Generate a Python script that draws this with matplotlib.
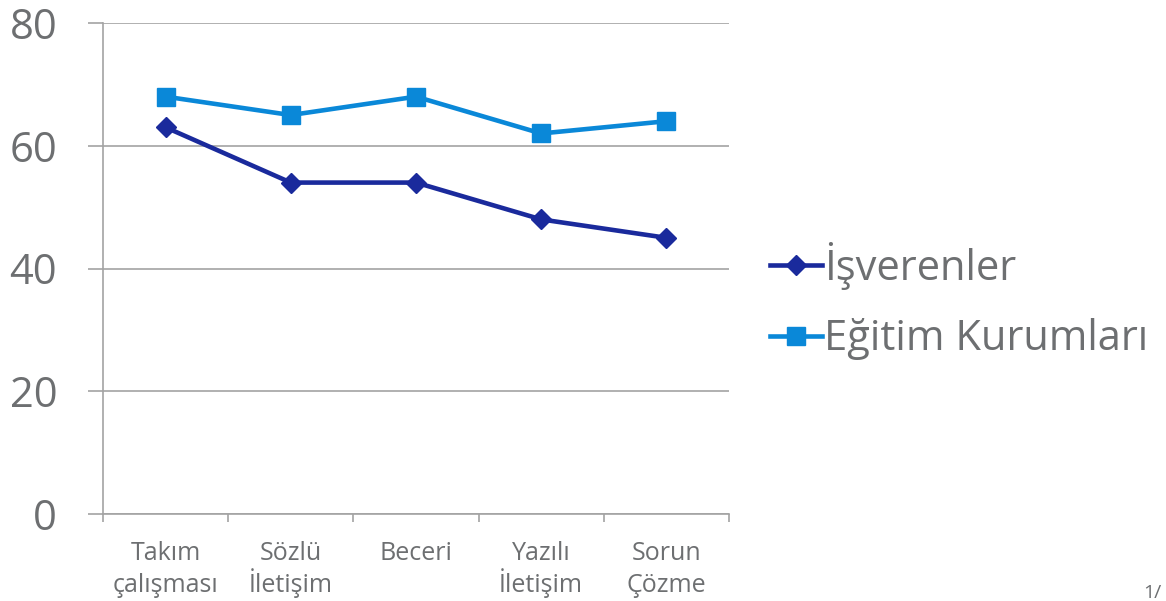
import matplotlib
matplotlib.use("Agg")
import matplotlib.pyplot as plt
from matplotlib.transforms import blended_transform_factory, offset_copy

categories = ["Takım\nçalışması", "Sözlü\nİletişim", "Beceri", "Yazılı\nİletişim", "Sorun\nÇözme"]
isverenler = [63, 54, 54, 48, 45]
egitim = [68, 65, 68, 62, 64]
yticks = [0, 20, 40, 60, 80]

plt.rcParams['font.family'] = ['Open Sans', 'DejaVu Sans']

W, H = 1166, 601
DPI = 100
fig = plt.figure(figsize=(W / DPI, H / DPI), dpi=DPI)
ax = fig.add_axes([103 / W, (H - 514) / H, (729 - 103) / W, (514 - 23) / H])

grid_c = "#a3a3a3"
text_c = "#6d6f71"
c1 = "#1a2a9c"
c2 = "#0a88d8"

x = list(range(len(categories)))
ax.plot(x, isverenler, color=c1, lw=3.3, marker="D", markersize=10, label="İşverenler", zorder=3)
ax.plot(x, egitim, color=c2, lw=3.3, marker="s", markersize=13, label="Eğitim Kurumları", zorder=3)

ax.set_xlim(-0.5, len(categories) - 0.5)
ax.set_ylim(0, 80)
ax.set_yticks(yticks)
ax.set_yticklabels([str(v) for v in yticks])
ax.yaxis.grid(True, color=grid_c, lw=1.2)
ax.set_axisbelow(True)
for s in ["top", "right"]:
    ax.spines[s].set_visible(False)
for s in ["left", "bottom"]:
    ax.spines[s].set_color(grid_c)
    ax.spines[s].set_linewidth(1.2)

ax.tick_params(axis="y", length=11, width=1.2, color=grid_c, pad=22, labelsize=30, labelcolor=text_c)

# category labels: one text per line, baselines aligned across categories
ax.set_xticks(x)
ax.set_xticklabels([""] * len(categories))
ax.tick_params(axis="x", which="major", length=0)
ax.set_xticks([i - 0.5 for i in range(len(categories) + 1)], minor=True)
ax.tick_params(axis="x", which="minor", length=6, width=1.2, color=grid_c)
trans = blended_transform_factory(ax.transData, ax.transAxes)
line_offsets_px = [46, 78]
for xi, label in zip(x, categories):
    for li, part in enumerate(label.split("\n")):
        t = offset_copy(trans, fig=fig, x=0, y=-line_offsets_px[li] * 72 / DPI, units="points")
        ax.text(xi, 0, part, transform=t, ha="center", va="baseline",
                fontsize=18, color=text_c, clip_on=False)

leg = fig.legend(loc="center left", bbox_to_anchor=(770 / W, 1 - 301 / H), frameon=False,
                 fontsize=30, labelcolor=text_c, handlelength=1.25, handletextpad=0.05,
                 labelspacing=0.68, borderaxespad=0, borderpad=0)

fig.text(1143 / W, 1 - 593 / H, "1/", fontsize=14, color=text_c, va="center", ha="left")

fig.savefig("out.png", dpi=DPI)
